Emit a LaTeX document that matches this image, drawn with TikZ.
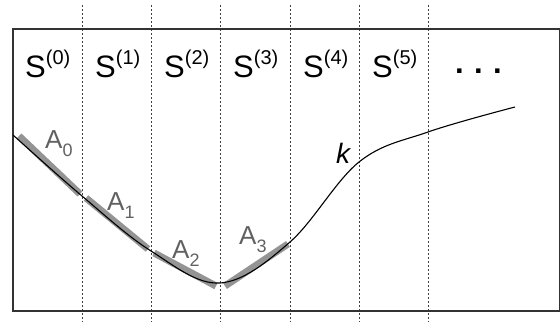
\documentclass[tikz,border=0pt]{standalone}
\usepackage{fontspec}
\setmainfont{Liberation Sans}
\newcommand{\supx}[1]{\raisebox{13pt}{\fontsize{20}{20}\selectfont(#1)}}
\newcommand{\subx}[1]{\raisebox{-8pt}{\fontsize{18}{18}\selectfont#1}}
\begin{document}
\begin{tikzpicture}[x=1pt,y=-1pt,
  sep/.style={black!75,line width=0.6pt,dash pattern=on 2pt off 2pt},
  approx/.style={black!42,line width=7pt},
  slab/.style={font=\fontsize{31}{34}\selectfont,inner sep=0pt,anchor=base west},
  alab/.style={font=\fontsize{26}{30}\selectfont,text=black!62,inner sep=0pt,anchor=base west},
]
\useasboundingbox (0,0) rectangle (560,322);
% separators
\foreach \x in {82,151,220,290,359,428}
  \draw[sep] (\x,5) -- (\x,322);
% frame
\draw[black!80,line width=1.4pt] (13,29) rectangle (560,311);
% approximating segments
\draw[approx] (19,136) -- (80,194);
\draw[approx] (86,198) -- (148,249);
\draw[approx] (154,253) -- (216,286);
\draw[approx] (225,286) -- (288,244);
% curve
\draw[black,line width=1.1pt] plot[smooth,tension=0.6] coordinates
  {(13,135) (82,196) (151,251) (220,283) (290,242) (359,162) (428,132) (515,107)};
% labels
\node[slab] (s0) at (25,77) {S\supx{0}};
\node[slab] (s1) at (95,77) {S\supx{1}};
\node[slab] (s2) at (164,77) {S\supx{2}};
\node[slab] (s3) at (233,77) {S\supx{3}};
\node[slab] (s4) at (303,77) {S\supx{4}};
\node[slab] (s5) at (372,77) {S\supx{5}};
\node[slab] (dots) at (455,73) {\textbf{.\,\,.\,\,.}};
\node[alab] (a0) at (45,148) {A\subx{0}};
\node[alab] (a1) at (107,210) {A\subx{1}};
\node[alab] (a2) at (172,258) {A\subx{2}};
\node[alab] (a3) at (239,244) {A\subx{3}};
\node[font=\fontsize{28}{30}\selectfont\itshape,inner sep=0pt,anchor=base west] (k) at (336,163) {k};
\end{tikzpicture}
\end{document}
